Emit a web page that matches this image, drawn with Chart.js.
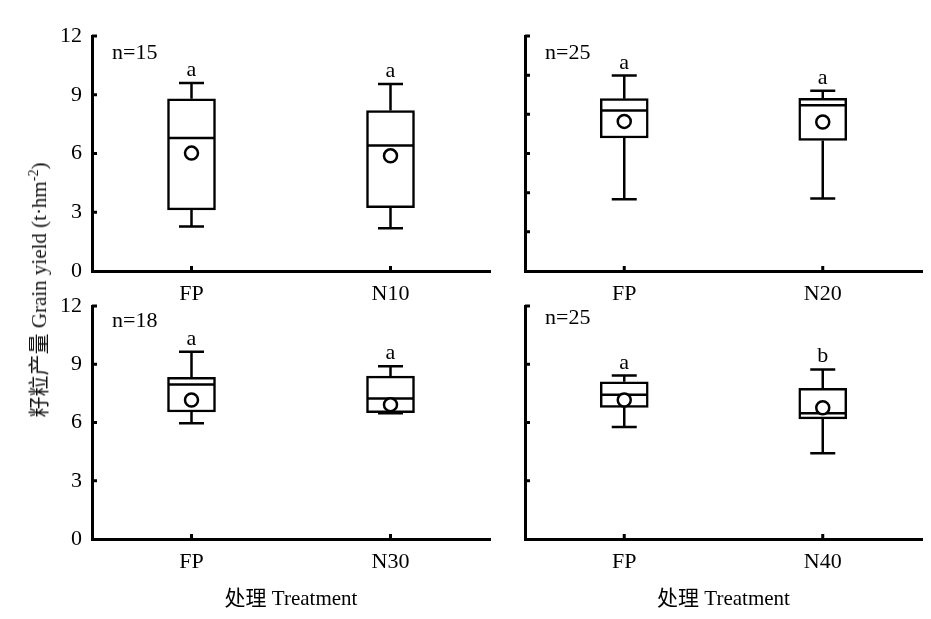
<!DOCTYPE html>
<html>
<head>
<meta charset="utf-8">
<script src="https://cdn.jsdelivr.net/npm/chart.js@4/dist/chart.umd.min.js"></script>
<style>
body { margin: 0; background: #fff; }
#wrap { position: relative; width: 931px; height: 619px; overflow: hidden; background: #fff; }
canvas { position: absolute; }
#ytitle {
  position: absolute; left: 37px; top: 290px;
  transform: translate(-50%, -50%) rotate(-90deg);
  white-space: nowrap; font: 21px "Liberation Serif", "Noto Sans CJK SC", serif; color: #111;
}
#ytitle sup { font-size: 14px; vertical-align: 8px; line-height: 0; }
</style>
</head>
<body>
<div id="wrap">
  <canvas id="c1" width="500" height="310" style="left:0;top:0"></canvas>
  <canvas id="c2" width="498" height="310" style="left:433px;top:0"></canvas>
  <canvas id="c3" width="500" height="339" style="left:0;top:280px"></canvas>
  <canvas id="c4" width="498" height="339" style="left:433px;top:280px"></canvas>
  <div id="ytitle">籽粒产量 Grain yield (t·hm<sup>-2</sup>)</div>
</div>
<script>
// data, one entry per panel
const categories = [['FP', 'N10'], ['FP', 'N20'], ['FP', 'N30'], ['FP', 'N40']];
const sampleSizes = ['n=15', 'n=25', 'n=18', 'n=25'];
const whiskerLow = [[2.27, 2.18], [3.67, 3.70], [5.96, 6.47], [5.77, 4.42]];
const q1 = [[3.12, 3.24], [6.79, 6.67], [6.54, 6.50], [6.78, 6.19]];
const median = [[6.79, 6.41], [8.19, 8.46], [7.96, 7.24], [7.43, 6.47]];
const q3 = [[8.79, 8.19], [8.80, 8.82], [8.32, 8.39], [8.10, 7.76]];
const whiskerHigh = [[9.60, 9.55], [9.98, 9.21], [9.64, 8.90], [8.42, 8.73]];
const means = [[6.02, 5.88], [7.64, 7.61], [7.16, 6.92], [7.16, 6.76]];
const letters = [['a', 'a'], ['a', 'a'], ['a', 'a'], ['a', 'b']];
const yTickStep = [3, 2, 3, 3];

const FONT = '22px "Liberation Serif", "Noto Sans CJK SC", serif';
Chart.defaults.font.family = '"Liberation Serif", "Noto Sans CJK SC", serif';
Chart.defaults.font.size = 22;
Chart.defaults.color = '#000';

// whiskers, medians, inward ticks and labels
const boxPlugin = {
  id: 'boxParts',
  beforeDatasetsDraw(chart) {
    const p = chart.options.plugins.boxParts;
    const x = chart.scales.x, y = chart.scales.y, ctx = chart.ctx;
    ctx.save();
    ctx.strokeStyle = '#000';
    ctx.lineWidth = 2.5;
    categories[p.panel].forEach((c, i) => {
      const px = x.getPixelForValue(i);
      const lo = y.getPixelForValue(whiskerLow[p.panel][i]);
      const hi = y.getPixelForValue(whiskerHigh[p.panel][i]);
      ctx.beginPath();
      ctx.moveTo(px, y.getPixelForValue(q1[p.panel][i])); ctx.lineTo(px, lo);
      ctx.moveTo(px - 12.5, lo); ctx.lineTo(px + 12.5, lo);
      ctx.moveTo(px, y.getPixelForValue(q3[p.panel][i])); ctx.lineTo(px, hi);
      ctx.moveTo(px - 12.5, hi); ctx.lineTo(px + 12.5, hi);
      ctx.stroke();
    });
    ctx.restore();
  },
  afterDatasetDraw(chart, args) {
    if (args.index !== 0) return;
    const p = chart.options.plugins.boxParts;
    const x = chart.scales.x, y = chart.scales.y, ctx = chart.ctx;
    ctx.save();
    ctx.strokeStyle = '#000';
    ctx.lineWidth = 2.5;
    categories[p.panel].forEach((c, i) => {
      const px = x.getPixelForValue(i);
      const py = y.getPixelForValue(median[p.panel][i]);
      ctx.beginPath();
      ctx.moveTo(px - 23, py); ctx.lineTo(px + 23, py);
      ctx.stroke();
    });
    ctx.restore();
  },
  afterDraw(chart) {
    const p = chart.options.plugins.boxParts;
    const x = chart.scales.x, y = chart.scales.y, ctx = chart.ctx;
    const area = chart.chartArea;
    ctx.save();
    ctx.strokeStyle = '#000';
    ctx.lineWidth = 3;
    ctx.beginPath();
    y.ticks.forEach(t => {
      if (t.value === 0) return;
      const py = y.getPixelForValue(t.value);
      ctx.moveTo(area.left, py); ctx.lineTo(area.left + 5, py);
    });
    categories[p.panel].forEach((c, i) => {
      const px = x.getPixelForValue(i);
      ctx.moveTo(px, area.bottom); ctx.lineTo(px, area.bottom - 5);
    });
    ctx.stroke();
    ctx.fillStyle = '#000';
    ctx.font = FONT;
    ctx.textAlign = 'center';
    ctx.textBaseline = 'alphabetic';
    categories[p.panel].forEach((c, i) => {
      const px = x.getPixelForValue(i);
      const hi = y.getPixelForValue(whiskerHigh[p.panel][i]);
      ctx.fillText(letters[p.panel][i], px, hi - 7);
    });
    ctx.textAlign = 'left';
    ctx.textBaseline = 'middle';
    ctx.fillText(sampleSizes[p.panel], area.left + 20, area.top + p.nOffset);
    ctx.restore();
  }
};

function makePanel(id, panel, showYLabels, bottomRow, padTop, padRight, nOffset) {
  return new Chart(document.getElementById(id), {
    type: 'bar',
    data: {
      labels: categories[panel],
      datasets: [{
        data: categories[panel].map((c, i) => [q1[panel][i], q3[panel][i]]),
        backgroundColor: '#fff',
        borderColor: '#000',
        borderWidth: 2.5,
        borderSkipped: false,
        barThickness: 48,
        order: 2
      }, {
        type: 'line',
        data: means[panel],
        showLine: false,
        pointRadius: 6.5,
        pointBackgroundColor: '#fff',
        pointBorderColor: '#000',
        pointBorderWidth: 2.5,
        order: 1
      }]
    },
    options: {
      responsive: false,
      animation: false,
      events: [],
      layout: { padding: { top: padTop, right: padRight, left: 0, bottom: 0 } },
      plugins: {
        legend: { display: false },
        tooltip: { enabled: false },
        boxParts: { panel: panel, nOffset: nOffset }
      },
      scales: {
        x: {
          grid: { display: false },
          border: { display: true, color: '#000', width: 3 },
          ticks: { padding: 2, color: '#000', font: { size: 22 } },
          title: { display: bottomRow, text: '处理 Treatment', color: '#000', font: { size: 21 }, padding: { top: 0, bottom: 7 } },
          afterFit: s => { s.height = bottomRow ? 80 : 39; }
        },
        y: {
          min: 0,
          max: 12,
          grid: { display: false },
          border: { display: true, color: '#000', width: 3 },
          ticks: {
            stepSize: yTickStep[panel],
            padding: 2,
            color: '#000',
            font: { size: 22 },
            callback: v => showYLabels ? v : ''
          },
          afterFit: s => { s.width = 92; }
        }
      }
    },
    plugins: [boxPlugin]
  });
}

makePanel('c1', 0, true, false, 36, 10, 17);
makePanel('c2', 1, false, false, 36, 8, 17);
makePanel('c3', 2, true, true, 26, 10, 15);
makePanel('c4', 3, false, true, 26, 8, 12);
</script>
</body>
</html>
